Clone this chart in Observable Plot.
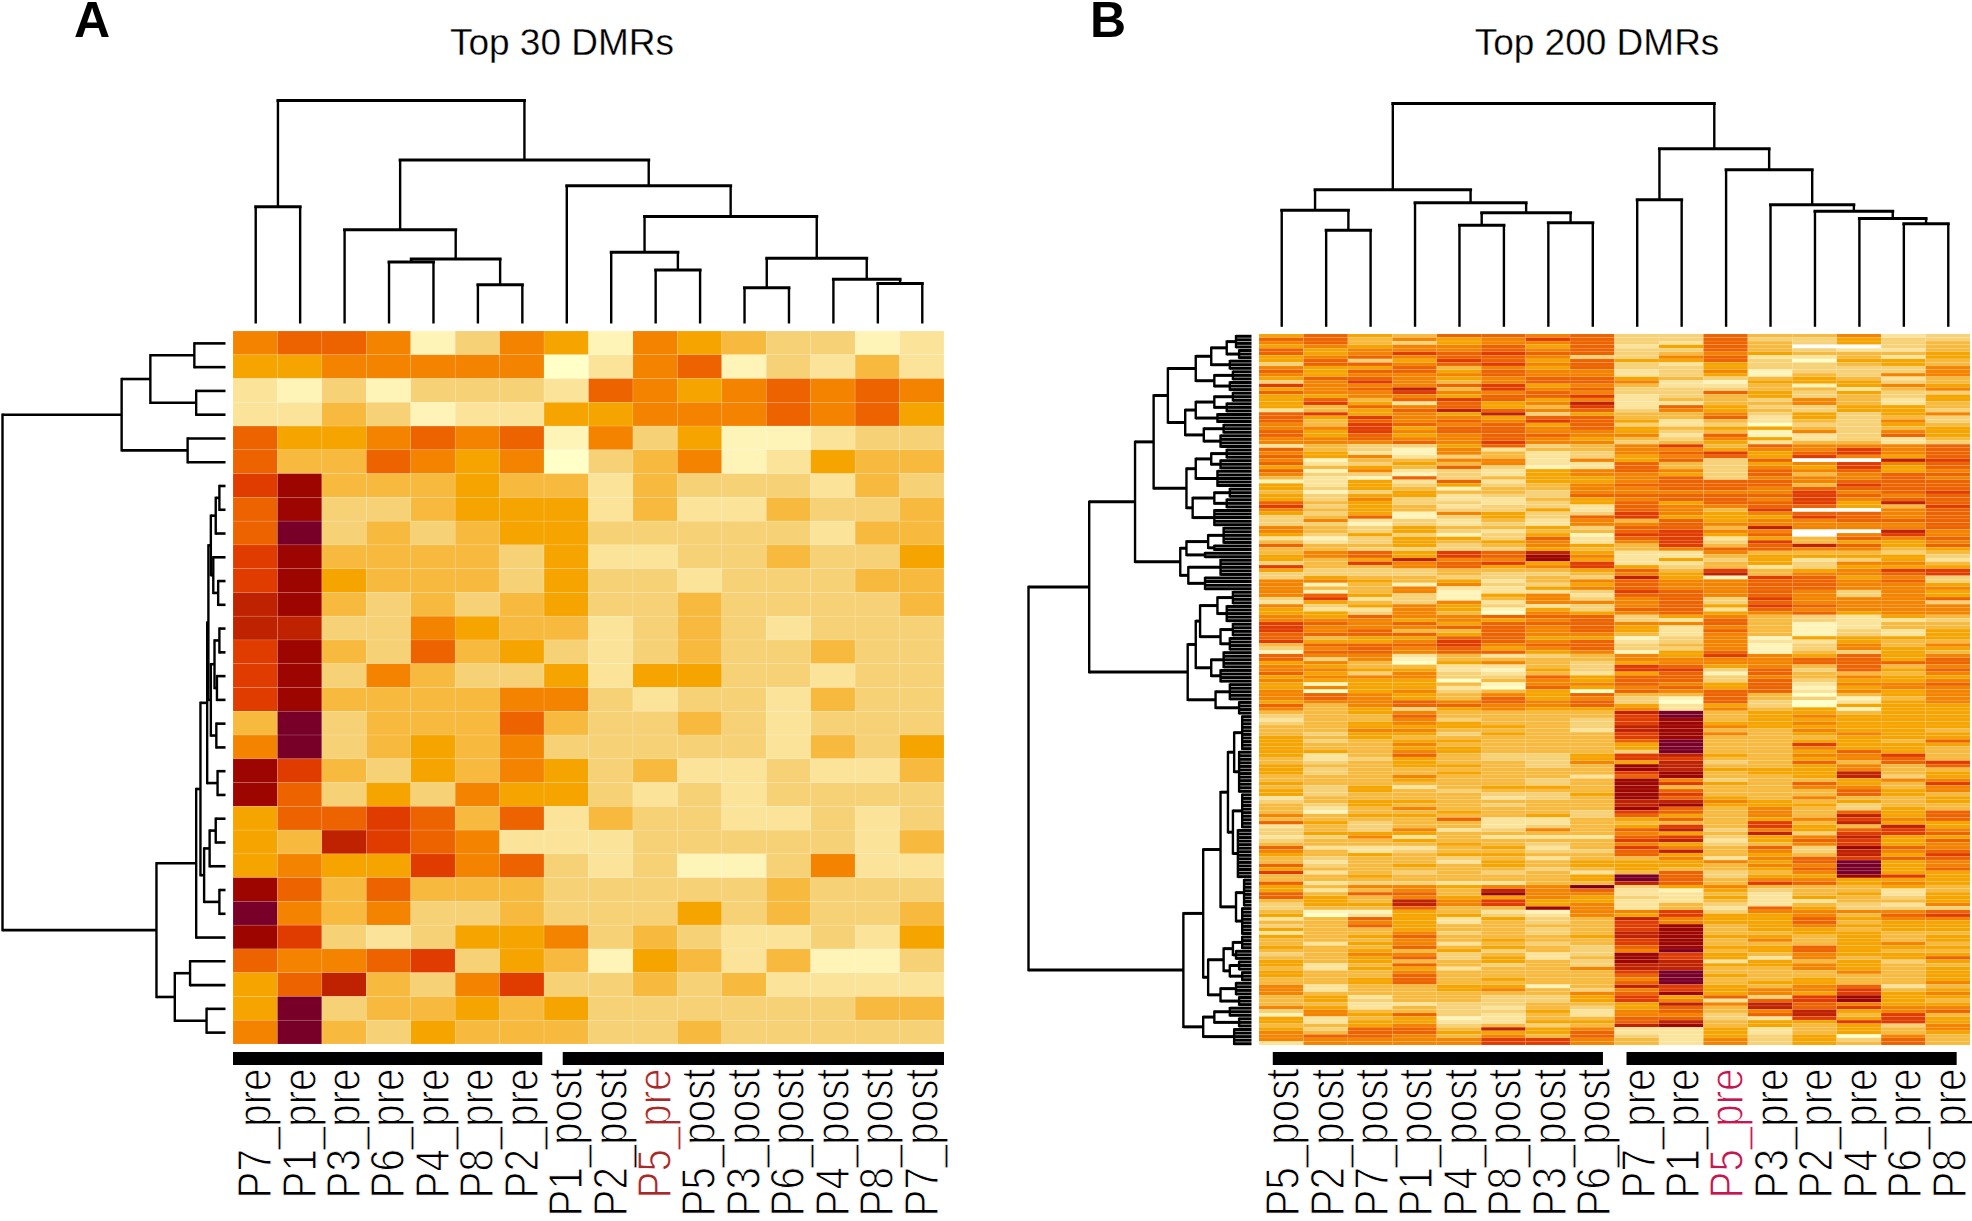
<!DOCTYPE html>
<html>
<head>
<meta charset="utf-8">
<script src="https://cdn.jsdelivr.net/npm/d3@7"></script>
<script src="https://cdn.jsdelivr.net/npm/@observablehq/plot@0.6"></script>
<style>
html,body{margin:0;padding:0;background:#fff;}
#page{position:relative;width:1972px;height:1221px;overflow:hidden;background:#fff;font-family:"Liberation Sans",sans-serif;color:#000;}
#page svg{position:absolute;overflow:visible;background:transparent;max-width:none;}
.panel{position:absolute;font-weight:bold;font-size:50px;line-height:36px;}
.title{position:absolute;font-size:37px;line-height:40px;transform:translateX(-50%);white-space:nowrap;-webkit-text-stroke:0.3px #fff;}
</style>
</head>
<body>
<div id="page"></div>
<script>
const levelColors = ["#FFFFFF","#FFFFC8","#FEF4B8","#FBE49A","#F7D175","#F7BA3E","#F6A400","#F48300","#EC6300","#E03C00","#BF2200","#9C0500","#780028"];

const columnsA = ["P7_pre","P1_pre","P3_pre","P6_pre","P4_pre","P8_pre","P2_pre","P1_post","P2_post","P5_pre","P5_post","P3_post","P6_post","P4_post","P8_post","P7_post"];
const columnsB = ["P5_post","P2_post","P7_post","P1_post","P4_post","P8_post","P3_post","P6_post","P7_pre","P1_pre","P5_pre","P3_pre","P2_pre","P4_pre","P6_pre","P8_pre"];

const rowsA = [
"7887247627654423","6677777137824353","3242444387678787","3354233667778786",
"8667878274622344","8558767145723655","9B55565535444354","8B44566635335445",
"8C45456644444355","9B55554633445446","9B65554644344455","AB54545644544445",
"AA44765534543444","9B54856434544544","9B47544636644344","9B55557743443544",
"5C45558544543444","7C45657444443546","B954657645334335","B846476643434444",
"6889858354433434","65A9873334444435","6766978434224733","B858555444445444",
"C757445444645445","B943466745433436","8778946526535224","68A5479445453333",
"6C45565644444455","7C54655544544444"
];

const rowsB = [
"6865887844855734","8857679844844644","7854677843854645","6767786836850045","8677787844854335",
"8679898845765556","6787887447833536","6846986866841665","4887897843644565","7668576844644447",
"8688687734724447","7677787734625477","6887678865456535","4797578873266645","9777896753352676",
"678A597844455357","8779778744864644","6677688934564546","6858986735547536","6963867A33557535",
"6587865938644665","3568A87847654664","89676A4655746467","8697768855836454","8587879863535474",
"7598786843414465","7796887865665456","8697887764527476","8686788773823486","7787787654763435",
"7778797745635534","3544684579587778","8542735577677978","7632753478968978","8673453467869768",
"72557737684800A9","8346573385467978","6565842385476968","8273436787487867","7442436776485788",
"5328456678477787","2363836678887888","6364645788885988","6465255778878888","5246554777779789",
"6466344888889878","6474335678879788","85644346868896A8","9465344387788659","7565446387590078",
"6462764497678878","4582464896669878","4734353758677888","4424343778777778","75465564885A7778",
"75464355897700A7","6464246299680797","3246648389365878","5346567379495667","855645765958A868",
"5544446557887756","578698A633755545","678698B733566664","656A77B636463463","4597896933564775",
"9557867964534666","6444555685956799","4444544576A57789","46554454A6298674","7765635787788784",
"7252744687788776","7557336787788777","7257233498787476","7864267388787476","4934257478497778",
"3654737778487774","7467643478698777","6337626488387777","6647517678678677","7687788846754365",
"7776767843854334","9878688877852355","9777887863752355","9785587863852436","8888687753752436",
"8566886624726666","9667987834733655","5888978845724757","4787867844724766","2887886726825465",
"8773534576976867","8472555577778868","6751675467778888","7655335498675857","7766326499484868",
"8647435368285557","6777448688475766","7666157688484667","6266527787683778","6766318678682677",
"7167456187883767","7876576855851567","7876586742854257","6778787841841367","8578877863641666",
"7564676673756266","55675555AC566566","455855559C567666","355745549B566666","456765549B667666",
"55666654AB766666","55775553AB557665","546646559B756766","656555559B555666","645665558C556658",
"655755556C559666","655665556C557665","665765554C556865","635854469A657795","5346544699556785",
"545655476A458589","65566545BA556758","64555555BA666755","645565559B566A56","555755538B556A46",
"55565545B7455677","65555545B9658659","54635665B5557757","64654555B8555867","64555446B9555865",
"35555345B8657556","45665555AA765656","54655455AB666455","53575555B8575465","5255655498575868",
"7566556486575A68","5555833568567978","8645533555595A66","35455345695965A6","454734758A476897",
"46665555765A4998","3473533389467A66","455655559A368968","5555654576457967","8333563597584B87",
"753455448A574A78","6565665586565A69","5455453557378988","5355365666768C67","8456565666577C67",
"6555554565568C68","9354545358457C66","55655556C8466B96","55555556C8577666","83443355A8598676",
"6577677C46755565","63575A7832645535","85885B7733535636","8657667643636546","565A796633533556",
"466A796735435437","455855B735386444","5226532779477778","6136643769667589","35863645A7668677",
"5576354597668566","458655559B567666","655655459B566566","35574545AB556655","65685556AB665656",
"555756559B575656","536735459B555675","655856548B668666","556564547C568655","45774534B9657666",
"55684635B9637568","65655654BA365646","63585454AA667655","53663557AA557656","655755559C555756",
"655855558C655556","556856557C556556","556855558C566557","73556625A9657835","7355675479677956",
"755555578B676967","5635544696849B66","5645544697389B65","553344556A7A8766","76354354685A8977",
"475544637857A678","276843537748A595","6356235588439696","636633668A566996","55674545AB565647",
"64885A6733635657","7588666833635656","7887575843646175","7777799753746485","3777799753746585"
];

// Dendrograms: [height, childA, childB]; 0 is one leaf; [height, n] is a tight bundle of n leaves.
const treeTopA = [563,[295,0,0],[413,[237,0,[163,[155,0,0],[98,0,0]]],[348,0,[270,[180,0,[135,0,0]],[165,[90,0,0],[112,0,[101,0,0]]]]]]];
const treeTopB = [670,[411,[350,0,[290,0,0]],[372,0,[342,[305,0,0],[312,0,0]]]],[534,[381,0,0],[471,0,[366,0,[347,0,[325,0,[309,0,0]]]]]]];
const treeLeftA = [365,
  [170,[123,[51,0,0],[48,0,0]],[62,0,0]],
  [113,
    [48,[41,
      [30,[28,[24,[16,[10,0,0],0],[20,0,[12,0,0]]],[24,[18,[10,0,0],[14,0,0]],[15,0,0]]],[13,0,0]],
      [35,[26,[16,0,0],0],[10,0,0]]],0],
    [83,[58,0,0],[31,0,0]]]];
const treeLeftB = [360,
  [262,
    [188,
      [158,
        [135,[90,[65,[40,[25,4],[20,3]],[35,3]],[60,[30,3],[35,3]]],[107,[90,[60,[30,3],[40,3]],[55,3]],[77,[45,3],[50,4]]]],
        [105,[90,[65,[40,3],[50,3]],[55,5]],[95,[60,[35,3],[40,3]],[60,5]]]],
      [115,[105,[70,[45,5],[60,2]],[75,2]],[102,[50,5],[75,4]]]],
    [103,[90,[83,[55,[30,4],[40,5]],[50,[30,4],[35,4]]],[65,[45,5],[50,4]]],[58,[35,5],[20,4]]]],
  [110,
    [78,[50,[38,[28,[15,10],[20,12]],[30,[15,10],[22,14]]],[25,[12,8],[15,8]]],[70,[45,[30,[15,4],[25,3]],[35,[20,3],[15,3]]],[50,[25,4],[20,3]]]],
    [78,[60,[35,3],[20,3]],[28,5]]]];

const groupBarsA = [[0,6.96],[7.42,16]];
const groupBarsB = [[0.31,7.74],[8.27,15.7]];

const page = document.getElementById("page");

function place(svg, left, top) {
  svg.style.left = left + "px";
  svg.style.top = top + "px";
  page.appendChild(svg);
}

function treeLinks(tree) {
  const links = [];
  let next = 0;
  (function walk(node) {
    if (node === 0) return {p: next++ + 0.5, h: 0};
    if (node.length === 2) {
      const [h, n] = node, first = next + 0.5;
      for (let i = 0; i < n; i++) { links.push({a: h, b: 0, p: next + 0.5}); next++; }
      const last = next - 0.5;
      links.push({h, p1: first, p2: last});
      return {p: (first + last) / 2, h};
    }
    const [h, A, B] = node, a = walk(A), b = walk(B);
    links.push({a: h, b: a.h, p: a.p}, {a: h, b: b.h, p: b.p}, {h, p1: a.p, p2: b.p});
    return {p: (a.p + b.p) / 2, h};
  })(tree);
  return links;
}

function dendroTop(tree, n, left, top, w, h) {
  const links = treeLinks(tree);
  const stems = links.filter(d => d.p !== undefined), bars = links.filter(d => d.p === undefined);
  place(Plot.plot({
    width: w, height: h, margin: 0,
    x: {domain: [0, n], range: [0, w], axis: null},
    y: {domain: [0, tree[0]], range: [h, 0], axis: null},
    marks: [
      Plot.link(stems, {x1: "p", x2: "p", y1: "a", y2: "b", stroke: "#000", strokeWidth: 2.4}),
      Plot.link(bars, {x1: "p1", x2: "p2", y1: "h", y2: "h", stroke: "#000", strokeWidth: 3, strokeLinecap: "square"})
    ]
  }), left, top);
}

function dendroLeft(tree, n, left, top, w, h, leafWidth) {
  const links = treeLinks(tree);
  const stems = links.filter(d => d.p !== undefined), bars = links.filter(d => d.p === undefined);
  place(Plot.plot({
    width: w, height: h, margin: 0,
    x: {domain: [tree[0], 0], range: [0, w], axis: null},
    y: {domain: [0, n], range: [0, h], axis: null},
    marks: [
      Plot.link(stems, {y1: "p", y2: "p", x1: "a", x2: "b", stroke: "#000", strokeWidth: leafWidth}),
      Plot.link(bars, {y1: "p1", y2: "p2", x1: "h", x2: "h", stroke: "#000", strokeWidth: 2.4, strokeLinecap: "square"})
    ]
  }), left, top);
}

function heat(rows, cols, left, top, w, h, lineOpacity) {
  const cells = rows.flatMap((r, i) => cols.map((c, j) => ({row: i, col: c, level: parseInt(r[j], 16)})));
  place(Plot.plot({
    width: w, height: h, margin: 0,
    x: {domain: cols, padding: 0, axis: null, round: false},
    y: {domain: d3.range(rows.length), padding: 0, axis: null, round: false},
    color: {type: "ordinal", domain: d3.range(levelColors.length), range: levelColors},
    marks: [Plot.cell(cells, {x: "col", y: "row", fill: "level", stroke: "#fff", strokeOpacity: lineOpacity, strokeWidth: 0.6})]
  }), left, top);
}

function labels(cols, bars, hotColor, left, top, w, h, dx) {
  const items = cols.map((c, i) => ({name: c, p: i + 0.5}));
  const svg = Plot.plot({
    width: w, height: h, margin: 0,
    x: {domain: [0, cols.length], range: [0, w], axis: null},
    y: {domain: [0, 1], range: [4, 17], axis: null},
    marks: [
      Plot.rect(bars, {x1: d => d[0], x2: d => d[1], y1: () => 0, y2: () => 1, fill: "#000"}),
      Plot.text(items, {
        x: "p", text: "name", frameAnchor: "top", rotate: -90, textAnchor: "end", lineAnchor: "middle",
        dy: 20, dx, fontSize: 48, fontFamily: "Liberation Sans",
        fill: d => d.name === "P5_pre" ? hotColor : "#000",
        stroke: "#fff", strokeWidth: 1.1, paintOrder: "fill"
      })
    ]
  });
  place(svg, left, top);
  // the reference lettering is tall and tight: same text, condensed along its run
  svg.querySelectorAll("text").forEach(t => {
    t.setAttribute("textLength", t.getComputedTextLength() * 0.84);
    t.setAttribute("lengthAdjust", "spacingAndGlyphs");
  });
}

function text(cls, str, left, top) {
  const e = document.createElement("div");
  e.className = cls; e.textContent = str;
  e.style.left = left + "px"; e.style.top = top + "px";
  page.appendChild(e);
}

text("panel", "A", 74, 2);
text("panel", "B", 1090, 2);
text("title", "Top 30 DMRs", 562, 23);
text("title", "Top 200 DMRs", 1597, 23);

dendroTop(treeTopA, 16, 233.3, 100, 711, 223);
dendroLeft(treeLeftA, 30, 2, 331, 223, 713, 2.6);
heat(rowsA, columnsA, 233.3, 331, 711, 713, 0.2);
labels(columnsA, groupBarsA, "#A52A2A", 233.3, 1048, 711, 173, 0);

dendroTop(treeTopB, 16, 1258.5, 102.7, 711, 223.3);
dendroLeft(treeLeftB, 200, 1028, 334, 223, 711, 3);
heat(rowsB, columnsB, 1258.5, 334, 711, 711, 0.12);
labels(columnsB, groupBarsB, "#C2174F", 1258.5, 1048, 711, 173, 2);
</script>
</body>
</html>
